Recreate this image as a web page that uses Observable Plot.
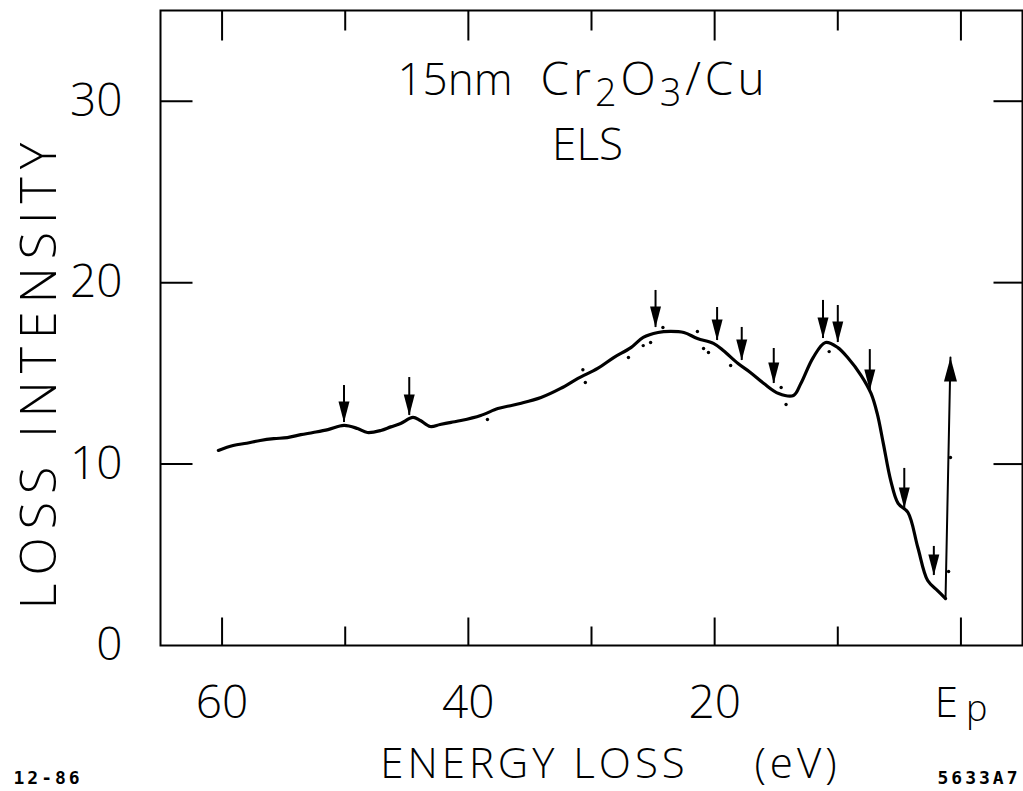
<!DOCTYPE html>
<html>
<head>
<meta charset="utf-8">
<script src="https://cdn.jsdelivr.net/npm/d3@7"></script>
<script src="https://cdn.jsdelivr.net/npm/@observablehq/plot@0.6"></script>
<style>
  html, body { margin: 0; padding: 0; background: #fff; }
  #chart svg { display: block; }
</style>
</head>
<body>
<div id="chart"></div>
<script>
// ---- data ----
const energy = [60.3, 59.1, 58.0, 56.9, 55.8, 54.7, 53.6, 52.6, 51.4, 50.1, 49.0, 48.2, 47.1, 46.3, 45.5, 44.5, 43.9, 43.1, 42.3, 41.4, 40.6, 39.0, 37.6, 36.7, 35.8, 34.1, 32.5, 31.1, 29.5, 28.2, 26.8, 25.8, 24.6, 23.6, 22.5, 21.4, 20.1, 19.3, 18.1, 17.1, 16.0, 14.8, 13.6, 13.0, 12.0, 11.0, 10.0, 9.2, 8.1, 7.3, 6.8, 6.3, 5.7, 5.1, 4.3, 3.5, 2.7, 1.9, 1.25];
const intensity = [10.75, 11.02, 11.15, 11.30, 11.40, 11.46, 11.62, 11.74, 11.90, 12.13, 11.96, 11.74, 11.85, 12.05, 12.24, 12.57, 12.40, 12.07, 12.18, 12.30, 12.40, 12.68, 13.06, 13.20, 13.34, 13.67, 14.17, 14.72, 15.27, 15.87, 16.42, 16.98, 17.25, 17.31, 17.25, 16.92, 16.65, 16.26, 15.54, 15.05, 14.44, 13.89, 13.78, 14.44, 15.87, 16.70, 16.42, 15.87, 14.88, 13.89, 12.79, 11.13, 9.09, 7.83, 7.33, 5.40, 3.58, 3.03, 2.59];

// scattered raw data points
const scatterE = [38.45, 30.7, 30.5, 27.0, 25.8, 25.2, 24.2, 21.4, 20.9, 20.5, 18.7, 14.6, 14.2, 10.7, 0.85, 1.0];
const scatterI = [12.46, 15.2, 14.5, 15.87, 16.53, 16.7, 17.53, 17.31, 16.37, 16.15, 15.43, 14.22, 13.28, 16.2, 10.36, 4.08];

// elastic peak (Ep) rising edge, drawn as an upward arrow
const riseE = [1.25, 0.85];
const riseI = [2.59, 15.87];

// feature arrows (energy, arrow tip, arrow tail)
const arrowE = [50.1, 44.8, 24.8, 19.8, 17.8, 15.2, 11.2, 10.0, 7.4, 4.6, 2.2];
const arrowTip = [12.29, 12.68, 17.53, 16.81, 15.71, 14.44, 16.92, 16.70, 14.05, 7.55, 3.86];
const arrowTail = [14.33, 14.77, 19.57, 18.63, 17.53, 16.37, 19.02, 18.74, 16.31, 9.76, 5.46];

// ticks and labels
const xMajor = [60, 40, 20, 0];
const xMinor = [50, 30, 10];
const xLabels = [60, 40, 20];
const yTicks = [10, 20, 30];
const yLabels = [0, 10, 20, 30];

const FONT = "'Open Sans', 'Liberation Sans', 'DejaVu Sans', sans-serif";
const MONO = "'DejaVu Sans Mono', 'Liberation Mono', monospace";

const curve = energy.map((e, i) => ({e, v: intensity[i]}));
const scatter = scatterE.map((e, i) => ({e, v: scatterI[i]}));
const rise = riseE.map((e, i) => ({e, v: riseI[i]}));
const arrows = arrowE.map((e, i) => ({e, tip: arrowTip[i], tail: arrowTail[i]}));

const headDown = {draw(ctx) { ctx.moveTo(0, 0); ctx.lineTo(-5.5, -21); ctx.lineTo(5.5, -21); ctx.closePath(); }};
const headUp = {draw(ctx) { ctx.moveTo(0, 0); ctx.lineTo(-6.5, 24); ctx.lineTo(6.5, 24); ctx.closePath(); }};
// inward tick-mark glyphs (direction and length in px)
const tickGlyph = (dx, dy, len) => ({draw(ctx) { ctx.moveTo(0, 0); ctx.lineTo(dx * len, dy * len); }});
const tk = {stroke: "#000", strokeWidth: 2, fill: "none"};

const plot = Plot.plot({
  width: 1023,
  height: 791,
  marginLeft: 160,
  marginRight: 1,
  marginTop: 10,
  marginBottom: 146,
  style: {fontFamily: FONT, background: "#fff", color: "#000", fontWeight: 300},
  x: {domain: [65, -5]},
  y: {domain: [0, 35]},
  marks: [
    Plot.frame({stroke: "#000", strokeWidth: 2}),
    // inward ticks on all four sides
    Plot.dot(xMajor, {x: d => d, frameAnchor: "bottom", symbol: tickGlyph(0, -1, 28), ...tk}),
    Plot.dot(xMinor, {x: d => d, frameAnchor: "bottom", symbol: tickGlyph(0, -1, 19), ...tk}),
    Plot.dot(xMajor, {x: d => d, frameAnchor: "top", symbol: tickGlyph(0, 1, 30), ...tk}),
    Plot.dot(xMinor, {x: d => d, frameAnchor: "top", symbol: tickGlyph(0, 1, 20), ...tk}),
    Plot.dot(yTicks, {y: d => d, frameAnchor: "left", symbol: tickGlyph(1, 0, 32), ...tk}),
    Plot.dot(yTicks, {y: d => d, frameAnchor: "right", symbol: tickGlyph(-1, 0, 29), ...tk}),
    // tick labels
    Plot.axisX(xLabels, {anchor: "bottom", tickSize: 0, tickPadding: 40, fontSize: 46, label: null, tickFormat: d => String(d)}),
    Plot.axisY(yLabels, {anchor: "left", tickSize: 0, tickPadding: 38, fontSize: 46, label: null, tickFormat: d => String(d)}),
    Plot.text([0], {x: d => d, text: () => "E", frameAnchor: "bottom", lineAnchor: "middle", dy: 58, dx: -3, textAnchor: "end", fontSize: 42}),
    Plot.text([0], {x: d => d, text: () => "p", frameAnchor: "bottom", lineAnchor: "middle", dy: 64, dx: 5, textAnchor: "start", fontSize: 36}),
    // axis titles
    Plot.text(["LOSS INTENSITY"], {text: d => d, frameAnchor: "left", textAnchor: "middle", lineAnchor: "middle", rotate: -90, dx: -121, dy: 44, fontSize: 50}),
    Plot.text(["ENERGY LOSS"], {text: d => d, frameAnchor: "bottom", textAnchor: "middle", lineAnchor: "middle", dx: -57, dy: 119, fontSize: 42}),
    Plot.text(["(eV)"], {text: d => d, frameAnchor: "bottom", textAnchor: "middle", lineAnchor: "middle", dx: 206, dy: 119, fontSize: 42}),
    // in-plot title
    Plot.text(["15nm"], {text: d => d, frameAnchor: "top-left", lineAnchor: "middle", dx: 352, dy: 70, textAnchor: "end", fontSize: 44}),
    Plot.text(["Cr2O3/Cu"], {text: d => d, frameAnchor: "top-left", lineAnchor: "middle", dx: 380, dy: 70, textAnchor: "start", fontSize: 46}),
    Plot.text(["ELS"], {text: d => d, frameAnchor: "top", textAnchor: "middle", lineAnchor: "middle", dx: -4, dy: 135, fontSize: 44}),
    // corner notes
    Plot.text(["12-86"], {text: d => d, frameAnchor: "bottom-left", lineAnchor: "middle", dx: -147, dy: 133, textAnchor: "start", fontSize: 18, fontWeight: "bold", fontFamily: MONO}),
    Plot.text(["5633A7"], {text: d => d, frameAnchor: "bottom-right", lineAnchor: "middle", dx: -85, dy: 133, textAnchor: "start", fontSize: 18, fontWeight: "bold", fontFamily: MONO}),
    // data
    Plot.line(curve, {x: "e", y: "v", stroke: "#000", strokeWidth: 3.2, curve: "catmull-rom"}),
    Plot.dot(scatter, {x: "e", y: "v", r: 1.7, fill: "#000", stroke: null}),
    Plot.line(rise, {x: "e", y: "v", stroke: "#000", strokeWidth: 2}),
    Plot.dot([rise[1]], {x: "e", y: "v", symbol: headUp, fill: "#000", stroke: null}),
    Plot.ruleX(arrows, {x: "e", y1: "tip", y2: "tail", stroke: "#000", strokeWidth: 2}),
    Plot.dot(arrows, {x: "e", y: "tip", symbol: headDown, fill: "#000", stroke: null})
  ]
});

const sel = (s) => d3.select(plot).selectAll("text").filter(function() { return this.textContent === s; });

// subscripts in the chemical formula
sel("Cr2O3/Cu").each(function() {
  const t = d3.select(this);
  t.text(null);
  [["Cr", false], ["2", true], ["O", false], ["3", true], ["/Cu", false]].forEach(([s, sub]) => {
    const ts = t.append("tspan").text(s);
    if (sub) ts.attr("font-size", "82%").attr("baseline-shift", "-11");
  });
}).attr("letter-spacing", "4");
sel("12-86").attr("letter-spacing", "3");
sel("5633A7").attr("letter-spacing", "3");
sel("LOSS INTENSITY").attr("letter-spacing", "8");
sel("ENERGY LOSS").attr("letter-spacing", "4");
sel("(eV)").attr("letter-spacing", "4");

document.getElementById("chart").appendChild(plot);
</script>
</body>
</html>
